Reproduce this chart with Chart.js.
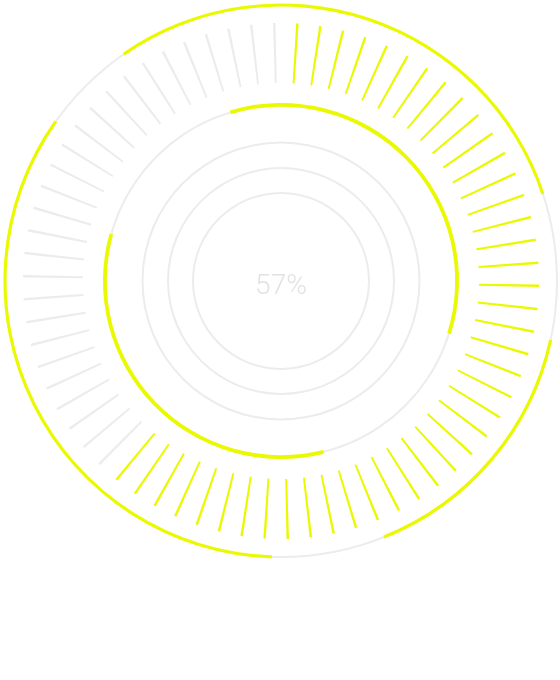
<!DOCTYPE html>
<html>
<head>
<meta charset="utf-8">
<script src="https://cdn.jsdelivr.net/npm/chart.js@4/dist/chart.umd.min.js"></script>
<style>
  html, body { margin: 0; padding: 0; background: #ffffff; }
  #wrap { position: relative; width: 560px; height: 680px; overflow: hidden; }
  #wrap canvas { position: absolute; left: 1px; top: 1px; }
</style>
</head>
<body>
<div id="wrap"></div>
<script>
// ---- data ----
const percentLabel = '57%';

// outer thin ring: segment sizes in degrees, clockwise, starting at outerRingStart
const outerRingSegments = [106.3, 30.7, 55.8, 23.8, 123.4, 20.0];
const outerRingActive   = [1, 0, 1, 0, 1, 0];
const outerRingStart    = -34.7;

// inner ring
const innerRingSegments = [124.1, 58.6, 119.5, 57.8];
const innerRingActive   = [1, 0, 1, 0];
const innerRingStart    = -16.7;

// 70 radial ticks, clockwise from tickStart (1 = highlighted)
const tickStates = [
  0,1,1,1,1,1,1,1,1,1,1,1,1,1,1,1,1,1,1,1,1,1,1,1,1,1,1,1,1,1,1,1,1,1,1,1,1,1,1,1,1,1,1,1,
  0,0,0,0,0,0,0,0,0,0,0,0,0,0,0,0,0,0,0,0,0,0,0,0,0,0
];
const tickStart = -1.5;

// plain guide circles (radius in px)
const guideRadii = [138.5, 113, 88];

// ---- styling ----
const YELLOW = '#eaf900';
const GREY = '#ececec';
const TEXT_GREY = '#e2e2e2';
const SIZE = 560;

const wrap = document.getElementById('wrap');

function ring(outerR, innerR, values, colors, rotation, plugins) {
  const c = document.createElement('canvas');
  c.width = SIZE; c.height = SIZE;
  c.style.width = SIZE + 'px'; c.style.height = SIZE + 'px';
  wrap.appendChild(c);
  return new Chart(c, {
    type: 'doughnut',
    data: {
      labels: values.map((v, i) => 's' + i),
      datasets: [{
        data: values,
        backgroundColor: colors,
        borderWidth: 0,
        hoverOffset: 0
      }]
    },
    options: {
      responsive: false,
      devicePixelRatio: 1,
      animation: false,
      events: [],
      radius: outerR,
      cutout: (innerR / outerR * 100) + '%',
      rotation: rotation,
      circumference: 360,
      layout: { padding: 0 },
      plugins: { legend: { display: false }, tooltip: { enabled: false }, title: { display: false } }
    },
    plugins: plugins || []
  });
}

// outer ring: grey base + yellow segments
ring(277, 275, [1], [GREY], 0);
ring(277.6, 274.4, outerRingSegments,
     outerRingActive.map(a => a ? YELLOW : 'rgba(0,0,0,0)'), outerRingStart);

// ticks
const tickStep = 360 / tickStates.length;
const tickWidth = 0.55;
const tickValues = [];
const tickColors = [];
tickStates.forEach(s => {
  tickValues.push(tickWidth, tickStep - tickWidth);
  tickColors.push(s ? YELLOW : GREY, 'rgba(0,0,0,0)');
});
ring(258, 198, tickValues, tickColors, tickStart - tickWidth / 2);

// inner ring: grey base + yellow segments
ring(177, 175, [1], [GREY], 0);
ring(178, 174.2, innerRingSegments,
     innerRingActive.map(a => a ? YELLOW : 'rgba(0,0,0,0)'), innerRingStart);

// guide circles
guideRadii.forEach((r, i) => {
  const plugins = [];
  if (i === guideRadii.length - 1) {
    plugins.push({
      id: 'centerText',
      afterDraw(chart) {
        const ctx = chart.ctx;
        const meta = chart.getDatasetMeta(0);
        const arc = meta.data[0];
        ctx.save();
        ctx.font = '300 28px Roboto, "Liberation Sans", sans-serif';
        ctx.fillStyle = TEXT_GREY;
        ctx.textAlign = 'center';
        ctx.textBaseline = 'alphabetic';
        ctx.fillText(percentLabel, arc.x, arc.y + 13);
        ctx.restore();
      }
    });
  }
  ring(r + 1, r - 1, [1], [GREY], 0, plugins);
});
</script>
</body>
</html>
